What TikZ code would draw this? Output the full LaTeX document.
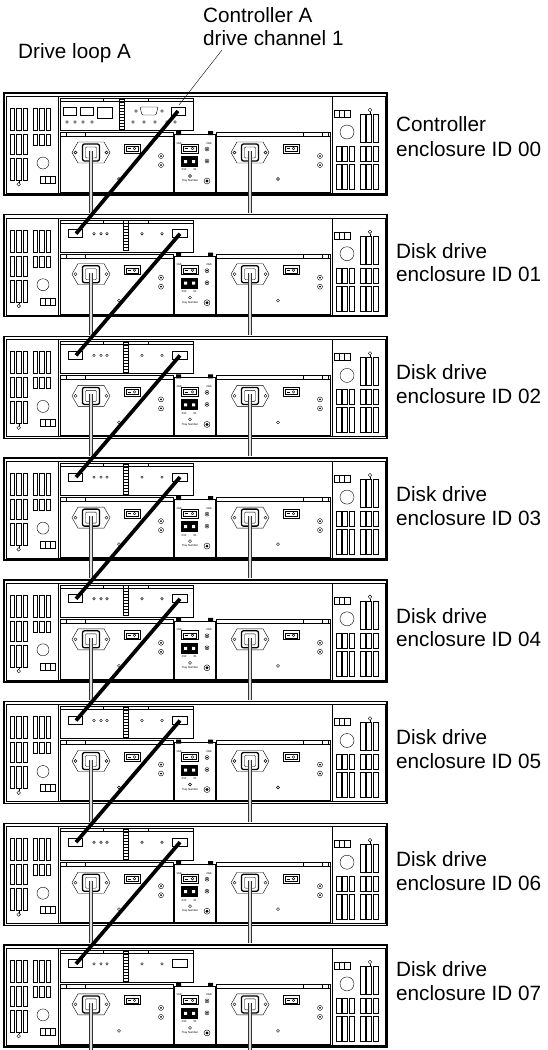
\documentclass[tikz,border=0pt]{standalone}
\usepackage{fontspec}
\setmainfont{Liberation Sans}

\begin{document}
\begin{tikzpicture}[x=1pt, y=-1pt,
    tag/.style={font=\fontsize{20.7}{24}\selectfont, inner sep=0pt},
    mini/.style={font=\fontsize{2.8}{3}\selectfont, inner sep=0pt},
    box/.style={line width=1.4pt, fill=white},
    port/.style={line width=1pt, fill=white},
    cable/.style={line width=3.7pt},
    cord/.style={draw=black!80, double=gray!25, double distance=2.8pt, line width=0.7pt}]
    \useasboundingbox (0,0) rectangle (547,1050);

    % Gabinetes
    \foreach \k in {0,...,7} {
      \pgfmathsetmacro\T{93+121.7*\k}
      \pgfmathsetmacro\cordend{\k==7 ? 105 : 120}
      \pgfmathsetmacro\ya{\k==0 ? 31 : (\k==7 ? 24.5 : 36)}
      \pgfmathsetmacro\yb{\k==0 ? 56 : (\k==7 ? 48.5 : 59.5)}
      \begin{scope}[shift={(0,\T)}]
        % Marco
        \draw[box] (4,0) rectangle (387,102);
        \draw[thin] (6,3) rectangle (385,100);

        % Panel izquierdo
        \draw[thin] (6,3) rectangle (58,100);
        \foreach \x in {10,16.5,23,33,39.5,46} \draw[thin] (\x,15) rectangle +(4.5,22);
        \foreach \x in {10,16.5,23} \draw[thin] (\x,41) rectangle +(4.5,20);
        \foreach \x in {33,39.5,46} \draw[thin] (\x,41) rectangle +(4.5,11);
        \foreach \x in {10,16.5,23} \draw[thin] (\x,65) rectangle +(4.5,22);
        \draw[thin] (18.7,87) -- (18.7,89.5);
        \draw[thin] (18.7,91.3) circle (1.8);
        \draw[thin] (43,70) circle (6);
        \draw[thin] (40,83) rectangle (55,90);
        \draw[thin] (45,83) -- (45,90) (50,83) -- (50,90);

        % Panel derecho
        \draw[thin] (332,3) rectangle (385,100);
        \draw[thin] (334,17) rectangle (350,24);
        \draw[thin] (339.3,17) -- (339.3,24) (344.6,17) -- (344.6,24);
        \draw[thin] (347,39) circle (7);
        \draw[thin] (370,17) circle (1.8);
        \draw[thin] (370,18.8) -- (370,21);
        \foreach \x in {360,366.5,373} \draw[thin] (\x,21) rectangle +(5,28);
        \foreach \x in {336,342.5,349,360,366.5,373} \draw[thin] (\x,53) rectangle +(5,15);
        \foreach \x in {336,342.5,349,360,366.5,373} \draw[thin] (\x,71) rectangle +(5,25);

        % Modulo superior
        \draw[thin] (60,5) rectangle (193,37);
        \draw[thin] (60,8) -- (193,8);
        \draw[thin] (103,5) -- (103,8) (148,5) -- (148,8);
        \ifnum\k=0
          % controlador A
          \draw[port] (63,14) rectangle (76,22);
          \draw[port] (80,14) rectangle (93,22);
          \draw[port] (97,14) rectangle (112,25);
          \foreach \x in {67,75,83,92} \draw[thin] (\x,29) circle (1.3);
          \draw[line width=0.7pt] (119,6) rectangle (124,36);
          \foreach \y in {9,12,...,33} \draw[line width=0.7pt] (119,\y) -- (124,\y);
          \draw[thin, rounded corners=1pt] (140,14) -- (158,14) -- (156,22) -- (142,22) -- cycle;
          \draw[thin] (136,18) circle (1.3) (162,18) circle (1.3);
          \foreach \x in {133,144,155,167,175} \draw[thin] (\x,29) circle (1.3);
          \draw[port] (171,14) rectangle (185,22);
          \coordinate (out0) at (178,18);
          \coordinate (ch1) at (179,12);
        \else
          % ESM
          \draw[port] (68,15) rectangle (82,23);
          \draw[port] (172,15) rectangle (187,23);
          \foreach \x in {94,101,107,142,162} \draw[thin] (\x,19) circle (1.3);
          \draw[line width=0.7pt] (123,6) rectangle (128,36);
          \foreach \y in {9,12,...,33} \draw[line width=0.7pt] (123,\y) -- (128,\y);
          \coordinate (in\k) at (76,19);
          \coordinate (out\k) at (180,19);
        \fi

        % Fuentes
        \draw[thin] (60,39) rectangle (173,99);
        \draw[thin] (60,43) -- (173,43) (85,39) -- (85,43) (66,39) -- (66,43);
        \draw[thin] (216,39) rectangle (330,99);
        \draw[thin] (216,43) -- (330,43);
        \draw[thin] (303,39) rectangle (322,43) (322,39) rectangle (328,43);
        \foreach \dx in {0,159} {
          \begin{scope}[shift={(\dx,0)}]
            \draw[thin] (72,59.5) -- (78,49) -- (104,49) -- (110,59.5) -- (104,70) -- (78,70) -- cycle;
            \draw[thin] (75.5,59.5) circle (1.5) (106.5,59.5) circle (1.5);
            \draw[line width=1.3pt, rounded corners=2pt] (82.5,51) rectangle (99.5,68);
            \draw[thin, rounded corners=1pt] (85.5,54) rectangle (96.5,65);
            \draw[cord] (91,58) -- (91,\cordend);
            \draw[line width=1pt] (124,51) rectangle (140,60);
            \draw[thin] (126,53) rectangle (138,58);
            \draw[thin] (127.5,55.5) -- (131,55.5);
            \draw[thin] (134.5,55.5) circle (1.3);
            \foreach \y in {63,72} {
              \draw[thin] (161,\y) circle (2.5);
              \fill (161,\y) circle (1);
            }
            \draw[thin] (119,86) circle (1.5);
          \end{scope}
        }

        % Modulo central
        \draw[thin, fill=white] (174,41) rectangle (215,99);
        \fill (176,38) rectangle (181,42) (208,38) rectangle (213,42);
        \node[mini] (gbA\k) at (179,50) {1Gb};
        \node[mini] (gbB\k) at (209,50) {2Gb};
        \draw[line width=1pt] (181,51) rectangle (198,60);
        \draw[thin] (183,53) rectangle (196,58);
        \draw[thin] (184.5,55.5) -- (188,55.5);
        \draw[thin] (192.5,55.5) circle (1.3);
        \fill (181,63) rectangle (198,74);
        \fill[white] (184,67) rectangle (187,70) (192,67) rectangle (195,70);
        \foreach \y in {56,68} {
          \draw[thin] (207,\y) circle (2);
          \fill (207,\y) circle (1);
        }
        \node[mini] (xa\k) at (184,77) {X10};
        \node[mini] (xb\k) at (195,77) {X1};
        \draw[thin] (190,83) circle (1.5);
        \node[mini] (tray\k) at (190,88) {Tray Number};
        \draw[thin] (207,88) circle (3);
        \fill (207,88) circle (1.6);

        % Etiquetas
        \ifnum\k=0
          \node[tag, anchor=west] (name\k) at (396,\ya) {Controller};
        \else
          \node[tag, anchor=west] (name\k) at (396,\ya) {Disk drive};
        \fi
        \node[tag, anchor=west] (id\k) at (396,\yb) {enclosure ID 0\k};
      \end{scope}
    }

    % Cables del lazo
    \foreach \k [count=\n] in {0,...,6} \draw[cable] (out\k) -- (in\n);

    % Titulos
    \node[tag, anchor=base west] (loop) at (18,58) {Drive loop A};
    \node[tag, anchor=base west] (ctrlA) at (203,22) {Controller A};
    \node[tag, anchor=base west] (chan) at (203,45) {drive channel 1};
    \coordinate (lead) at (222,50);
    \draw[thin] (lead) -- (ch1);

\end{tikzpicture}
\end{document}
